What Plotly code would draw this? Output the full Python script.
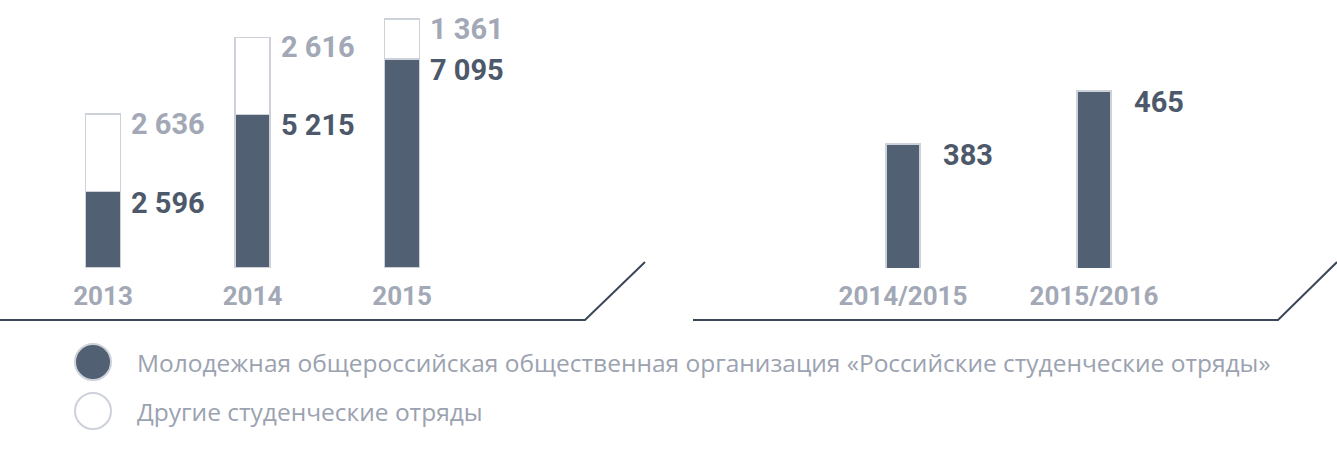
import plotly.graph_objects as go

# left panel: squad members by year
years = ["2013", "2014", "2015"]
rso_members = [2596, 5215, 7095]
other_members = [2636, 2616, 1361]

# right panel: season values
seasons = ["2014/2015", "2015/2016"]
season_values = [383, 465]

legend_labels = [
    "Молодежная общероссийская общественная организация «Российские студенческие отряды»",
    "Другие студенческие отряды",
]

DARK = "#526073"
EDGE = "#cdd1d9"
GREY_TXT = "#a2a8b5"
LINE = "#3b4759"


def fmt(v):
    return f"{v:,}".replace(",", " ")


fig = go.Figure()

fig.add_trace(go.Bar(
    x=years, y=rso_members, width=0.234,
    marker=dict(color=DARK, line=dict(color=EDGE, width=1.5)),
    xaxis="x", yaxis="y", hoverinfo="skip",
))
fig.add_trace(go.Bar(
    x=years, y=other_members, width=0.234,
    marker=dict(color="white", line=dict(color=EDGE, width=1.5)),
    xaxis="x", yaxis="y", hoverinfo="skip",
))
fig.add_trace(go.Bar(
    x=seasons, y=season_values, width=0.178,
    marker=dict(color=DARK, line=dict(color=EDGE, width=1.5)),
    xaxis="x2", yaxis="y2", hoverinfo="skip",
))

num_font_dark = dict(family="Roboto", size=29, color="#4d596b", weight="bold")
num_font_grey = dict(family="Roboto", size=29, color=GREY_TXT, weight="bold")

annotations = []
# category axes: annotate by category index
for i, (a, b) in enumerate(zip(rso_members, other_members)):
    annotations.append(dict(x=i, y=a, xref="x", yref="y", text=fmt(a),
                            showarrow=False, xanchor="left", yanchor="middle",
                            xshift=26, yshift=-11, font=num_font_dark))
    annotations.append(dict(x=i, y=a + b, xref="x", yref="y", text=fmt(b),
                            showarrow=False, xanchor="left", yanchor="middle",
                            xshift=26, yshift=-10, font=num_font_grey))
for i, v in enumerate(season_values):
    annotations.append(dict(x=i, y=v, xref="x2", yref="y2", text=fmt(v),
                            showarrow=False, xanchor="left", yanchor="middle",
                            xshift=38, yshift=-11, font=num_font_dark))

# legend drawn by hand: circles + text
W, H = 1337, 449
shapes = []
legend_y = [362, 411]
legend_fill = [DARK, "white"]
for py, fill, label in zip(legend_y, legend_fill, legend_labels):
    shapes.append(dict(type="circle", xref="paper", yref="paper",
                       x0=75 / W, x1=111 / W,
                       y0=1 - (py + 18) / H, y1=1 - (py - 18) / H,
                       fillcolor=fill, line=dict(color=EDGE, width=2)))
    annotations.append(dict(x=135 / W, y=1 - py / H, xref="paper", yref="paper",
                            text=label, showarrow=False, xanchor="left",
                            yanchor="middle",
                            font=dict(family="Open Sans", size=24.5, color="#9ba2b0")))

# baselines with slanted ends
for pts in ([(0, 320), (585, 320), (645, 262)],
            [(693, 320), (1278, 320), (1337, 262)]):
    path = "M " + " L ".join(f"{x / W},{1 - y / H}" for x, y in pts)
    shapes.append(dict(type="path", xref="paper", yref="paper", path=path,
                       line=dict(color=LINE, width=2)))

ybase = (H - 268) / H
tickfont = dict(family="Roboto", size=26, color=GREY_TXT, weight="bold")

fig.update_layout(
    width=W, height=H, autosize=False,
    margin=dict(l=0, r=0, t=0, b=0),
    paper_bgcolor="white", plot_bgcolor="white",
    barmode="stack", showlegend=False,
    xaxis=dict(domain=[0, 645 / W], range=[-0.689, 3.625], type="category",
               showgrid=False, zeroline=False, showline=False,
               ticks="outside", ticklen=5, tickcolor="rgba(0,0,0,0)",
               tickfont=tickfont, anchor="y"),
    yaxis=dict(domain=[ybase, 1], range=[0, 9100], visible=False, anchor="x"),
    xaxis2=dict(domain=[693 / W, 1], range=[-1.099, 2.272], type="category",
                showgrid=False, zeroline=False, showline=False,
                ticks="outside", ticklen=5, tickcolor="rgba(0,0,0,0)",
                tickfont=tickfont, anchor="y2"),
    yaxis2=dict(domain=[ybase, 1], range=[191, 606], visible=False, anchor="x2"),
    annotations=annotations,
    shapes=shapes,
)

fig.write_html("out.html", config={"displayModeBar": False},
               post_script="document.body.style.margin='0';")
